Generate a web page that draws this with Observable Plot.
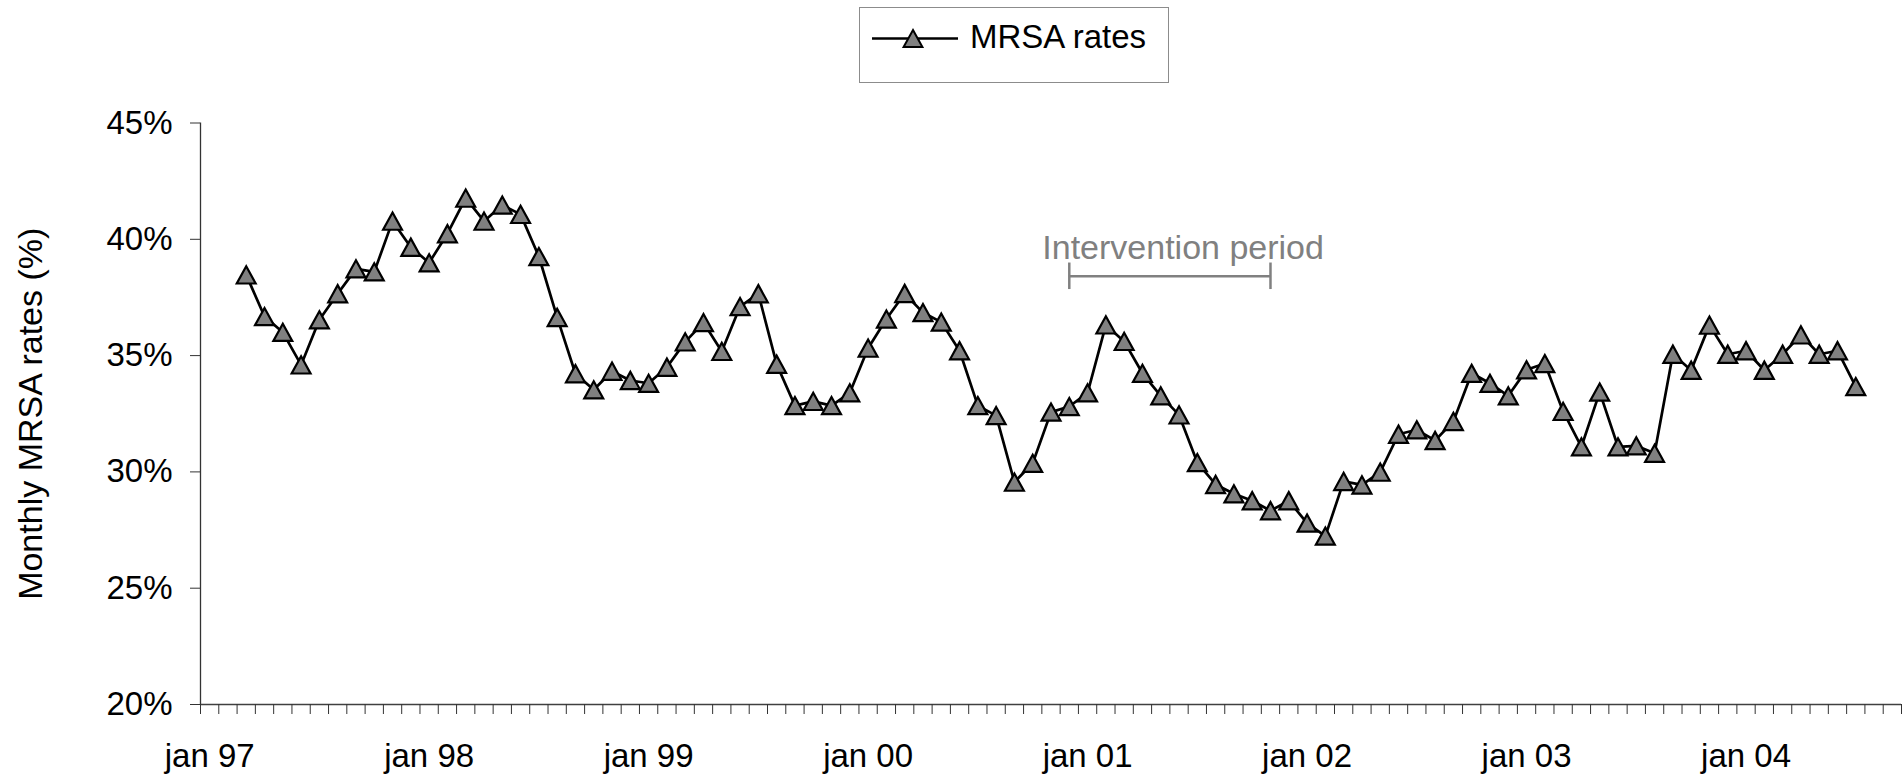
<!DOCTYPE html>
<html>
<head>
<meta charset="utf-8">
<script src="https://cdn.jsdelivr.net/npm/d3@7"></script>
<script src="https://cdn.jsdelivr.net/npm/@observablehq/plot@0.6"></script>
<style>
html, body { margin: 0; padding: 0; background: #fff; overflow: hidden; }
body { font-family: "Liberation Sans", Arial, sans-serif; }
#legendRow { position: relative; height: 90px; width: 1903px; }
#legendBox { position: absolute; left: 859px; top: 7px; width: 308px; height: 74px; border: 1px solid #8c8c8c; }
#chart { width: 1903px; height: 685px; }
</style>
</head>
<body>
<div id="legendRow"><div id="legendBox"></div></div>
<div id="chart"></div>
<script>
// ---- data ----
const years = ["97", "98", "99", "00", "01", "02", "03", "04"];
const monthNames = ["jan", "feb", "mar", "apr", "may", "jun", "jul", "aug", "sep", "oct", "nov", "dec"];
const lastCategory = "sep 04";
const firstDataMonth = "mar 97";
const mrsaRates = [
  38.47, 36.68, 36.0, 34.6, 36.54, 37.66, 38.73, 38.6, 40.78, 39.66, 38.99, 40.24,
  41.77, 40.78, 41.47, 41.07, 39.26, 36.64, 34.22, 33.53, 34.33, 33.93, 33.81,
  34.5, 35.59, 36.42, 35.18, 37.11, 37.66, 34.63, 32.85, 33.03, 32.85, 33.4, 35.32,
  36.57, 37.67, 36.85, 36.44, 35.21, 32.85, 32.42, 29.56, 30.37, 32.57, 32.81,
  33.4, 36.32, 35.61, 34.24, 33.27, 32.45, 30.4, 29.46, 29.06, 28.76, 28.33, 28.76,
  27.8, 27.24, 29.59, 29.44, 29.99, 31.62, 31.81, 31.35, 32.17, 34.24, 33.81,
  33.27, 34.39, 34.66, 32.6, 31.08, 33.43, 31.08, 31.12, 30.8, 35.06, 34.37, 36.31,
  35.06, 35.21, 34.37, 35.06, 35.89, 35.06, 35.21, 33.67
];
const yTicks = [20, 25, 30, 35, 40, 45];
const seriesName = "MRSA rates";
const yTitle = "Monthly MRSA rates (%)";
const interventionLabel = "Intervention period";
const interventionStart = "dec 00";
const interventionEnd = "nov 01";
const bracketY = 38.41;
const bracketCap = 0.57;

// ---- build tables ----
const categories = [];
for (const y of years) for (const m of monthNames) categories.push(m + " " + y);
categories.length = categories.indexOf(lastCategory) + 1;
const start = categories.indexOf(firstDataMonth);
const data = mrsaRates.map((v, i) => ({month: categories[start + i], value: v}));
const janTicks = categories.filter(c => c.startsWith("jan"));

const W = 1903, H = 685, mL = 200, mR = 2, mT = 32.5, mB = 71;
const step = (W - mL - mR) / categories.length;
const FONT = "'Liberation Sans', Arial, sans-serif";

const excelTriangle = {
  draw(ctx, size) {
    const r = Math.sqrt(size / Math.PI);
    ctx.moveTo(0, -r);
    ctx.lineTo(r * 1.1, r);
    ctx.lineTo(-r * 1.1, r);
    ctx.closePath();
  }
};

// ---- legend ----
const legend = d3.select("#legendBox").append("svg").attr("width", 308).attr("height", 74);
legend.append("line").attr("x1", 12).attr("x2", 98).attr("y1", 30.5).attr("y2", 30.5)
  .attr("stroke", "black").attr("stroke-width", 2.6);
legend.append("path").attr("d", "M53,22L62.4,39L43.6,39Z")
  .attr("fill", "#808080").attr("stroke", "black").attr("stroke-width", 2);
legend.append("text").attr("x", 110).attr("y", 40).attr("font-size", 33)
  .attr("font-family", FONT).attr("fill", "black").text(seriesName);

// ---- chart ----
const chart = Plot.plot({
  width: W, height: H,
  marginLeft: mL, marginRight: mR, marginTop: mT, marginBottom: mB,
  style: {fontFamily: FONT, fontSize: "33px", color: "black", background: "white", overflow: "visible"},
  x: {type: "point", domain: categories, padding: 0.5, align: 0.5, round: false},
  y: {domain: [20, 45]},
  marks: [
    Plot.ruleY([20], {stroke: "#404040", strokeWidth: 1.3}),
    Plot.ruleX([categories[0]], {dx: -step / 2, y1: 20, y2: 45, stroke: "#333", strokeWidth: 1.3}),
    Plot.axisX({ticks: categories, tickSize: 10, text: null, label: null, dx: -step / 2, stroke: "#333"}),
    Plot.axisX({ticks: [lastCategory], tickSize: 10, text: null, label: null, dx: step / 2, stroke: "#333"}),
    Plot.axisX({ticks: janTicks, tickSize: 0, tickPadding: 39, tickFormat: d => d, label: null, fontSize: 33, fill: "black"}),
    Plot.axisY({ticks: yTicks, tickSize: 10, tickPadding: 18, tickFormat: d => d + "%", label: null, fontSize: 33, fill: "black", stroke: "#333"}),
    Plot.text([yTitle], {frameAnchor: "left", text: d => d, rotate: -90, dx: -169, textAnchor: "middle", lineAnchor: "middle", fontSize: 34, fill: "black"}),
    Plot.ruleY([bracketY], {x1: () => interventionStart, x2: () => interventionEnd, stroke: "#808080", strokeWidth: 2.5}),
    Plot.ruleX([interventionStart, interventionEnd], {y1: bracketY - bracketCap, y2: bracketY + bracketCap, stroke: "#808080", strokeWidth: 2.5}),
    Plot.text([interventionLabel], {x: () => interventionStart, y: () => bracketY, text: d => d, textAnchor: "start", lineAnchor: "bottom", dx: -27, dy: -17, fill: "#808080", fontSize: 34}),
    Plot.line(data, {x: "month", y: "value", stroke: "black", strokeWidth: 2.7}),
    Plot.dot(data, {x: "month", y: "value", symbol: excelTriangle, r: 8.6, fill: "#808080", stroke: "black", strokeWidth: 2.2})
  ]
});
document.getElementById("chart").appendChild(chart);
</script>
</body>
</html>
